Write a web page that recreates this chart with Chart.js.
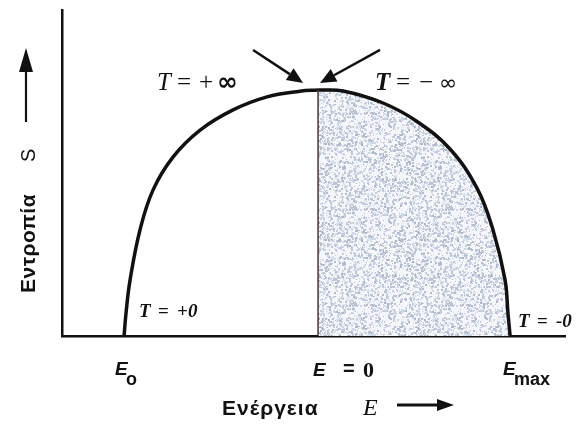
<!DOCTYPE html>
<html>
<head>
<meta charset="utf-8">
<script src="https://cdn.jsdelivr.net/npm/chart.js@4"></script>
<style>
  html, body { margin: 0; padding: 0; background: #fff; }
</style>
</head>
<body>
<canvas id="chart" width="579" height="424"></canvas>
<script>
// entropy curve S(E) (E0 = -1, E = 0, Emax = 1; peak S = 1)
const leftE  = [-1.0, -0.99, -0.969, -0.918, -0.851, -0.747, -0.608, -0.438, -0.263, -0.093, 0];
const leftS  = [0, 0.093, 0.228, 0.431, 0.593, 0.728, 0.837, 0.919, 0.972, 0.995, 1];
const rightE = [0, 0.129, 0.335, 0.510, 0.680, 0.820, 0.902, 0.964, 0.979, 0.990];
const rightS = [1, 0.996, 0.947, 0.872, 0.760, 0.600, 0.431, 0.228, 0.093, 0];

// tick positions on the energy axis
const tickValues = [-1, 0, 1];
const tickNames  = ['E', 'E', 'E'];
const tickSubs   = ['o', '', 'max'];

const xLabel = 'Ενέργεια';
const yLabel = 'Εντροπία';

const toPoints = (xs, ys) => xs.map((x, i) => ({ x, y: ys[i] }));

// grey speckled fill for the negative-temperature half
function speckle() {
    const size = 96;
    const c = document.createElement('canvas');
    c.width = c.height = size;
    const g = c.getContext('2d');
    g.fillStyle = '#f5f6f9';
    g.fillRect(0, 0, size, size);
    let seed = 12345;
    const rnd = () => (seed = (seed * 16807) % 2147483647) / 2147483647;
    for (let i = 0; i < 1900; i++) {
        const v = 182 + (rnd() * 42 | 0);
        g.fillStyle = `rgb(${v - 8},${v},${v + 16})`;
        const s = rnd() < 0.5 ? 2 : 1;
        g.fillRect(rnd() * size | 0, rnd() * size | 0, s, s);
    }
    return g.createPattern(c, 'repeat');
}

function arrow(ctx, x1, y1, x2, y2, width, headLen, headW) {
    const a = Math.atan2(y2 - y1, x2 - x1);
    const bx = x2 - headLen * Math.cos(a), by = y2 - headLen * Math.sin(a);
    ctx.lineWidth = width;
    ctx.beginPath();
    ctx.moveTo(x1, y1);
    ctx.lineTo(bx, by);
    ctx.stroke();
    ctx.beginPath();
    ctx.moveTo(x2, y2);
    ctx.lineTo(bx + headW / 2 * Math.sin(a), by - headW / 2 * Math.cos(a));
    ctx.lineTo(bx - headW / 2 * Math.sin(a), by + headW / 2 * Math.cos(a));
    ctx.closePath();
    ctx.fill();
}

// text pieces placed at offsets from an anchor
function pieces(ctx, x, y, parts) {
    for (const [text, font, dx, dy] of parts) {
        ctx.font = font;
        ctx.fillText(text, x + dx, y + (dy || 0));
    }
}

const annotations = {
    id: 'annotations',
    afterDraw(chart) {
        const { ctx, scales: { x, y } } = chart;
        const ink = '#111';
        ctx.save();
        ctx.fillStyle = ink;
        ctx.strokeStyle = ink;
        ctx.textBaseline = 'alphabetic';
        ctx.textAlign = 'left';

        const px = x.getPixelForValue(0);
        const py = y.getPixelForValue(1);
        const base = y.getPixelForValue(0);

        // arrows pointing at the top of the curve
        arrow(ctx, px - 65, py - 40, px - 15, py - 7, 2.5, 16, 14);
        arrow(ctx, px + 62, py - 40, px + 2, py - 7, 2.5, 16, 14);

        const serif = '"Liberation Serif", "Times New Roman", serif';
        const sans = '"Liberation Sans", Arial, sans-serif';
        const dsans = '"DejaVu Sans", sans-serif';

        pieces(ctx, px, py, [
            ['T', `italic 25px ${serif}`, -161],
            ['=', `25px ${serif}`, -141],
            ['+', `25px ${serif}`, -119],
            ['∞', `bold 25px ${dsans}`, -101]
        ]);
        pieces(ctx, px, py, [
            ['T', `bold italic 25px ${serif}`, 57],
            ['=', `25px ${serif}`, 78],
            ['−', `25px ${serif}`, 101],
            ['∞', `22px ${dsans}`, 121]
        ]);

        // temperature labels at the ends of the curve
        pieces(ctx, x.getPixelForValue(-1), base - 19, [
            ['T', `bold italic 19px ${serif}`, 15],
            ['=', `bold 19px ${serif}`, 34],
            ['+0', `bold italic 19px ${serif}`, 53]
        ]);
        pieces(ctx, x.getPixelForValue(1), base - 9, [
            ['T', `bold italic 19px ${serif}`, 6],
            ['=', `bold 19px ${serif}`, 25],
            ['-0', `bold italic 19px ${serif}`, 44]
        ]);

        // energy tick labels
        tickValues.forEach((v, i) => {
            const tx = x.getPixelForValue(v);
            if (tickSubs[i]) {
                pieces(ctx, tx, base + 39, [
                    [tickNames[i], `italic bold 19px ${sans}`, -9],
                    [tickSubs[i], `bold 18px ${sans}`, 2, 10]
                ]);
            } else {
                pieces(ctx, tx, base + 40, [
                    [tickNames[i], `italic bold 19px ${sans}`, -5],
                    ['=', `bold 20px ${sans}`, 25, -1],
                    ['0', `bold 22px ${serif}`, 45, 1]
                ]);
            }
        });

        // x axis title with arrow
        ctx.letterSpacing = '1px';
        pieces(ctx, 222, 415, [[xLabel, `bold 21px ${sans}`, 0]]);
        ctx.letterSpacing = '0px';
        pieces(ctx, 363, 415, [['E', `italic 24px ${serif}`, 0]]);
        arrow(ctx, 397, 405, 454, 405, 3, 17, 12);

        // y axis title with arrow, rotated
        ctx.save();
        ctx.translate(35, 293);
        ctx.rotate(-Math.PI / 2);
        ctx.letterSpacing = '0.5px';
        pieces(ctx, 0, 0, [[yLabel, `bold 21px ${sans}`, 0], ['S', `20px ${sans}`, 131]]);
        ctx.restore();
        arrow(ctx, 26, 122, 26, 48, 2.2, 24, 14);

        ctx.restore();
    }
};

new Chart(document.getElementById('chart'), {
    type: 'line',
    data: {
        datasets: [
            {
                data: [{ x: 0, y: 0 }, { x: 0, y: 1 }],
                borderColor: '#4a3434',
                borderWidth: 1.5,
                pointRadius: 0,
                fill: false
            },
            {
                data: toPoints(rightE, rightS),
                borderColor: '#111',
                borderWidth: 3.5,
                pointRadius: 0,
                tension: 0.4,
                fill: 'origin',
                backgroundColor: speckle()
            },
            {
                data: toPoints(leftE, leftS),
                borderColor: '#111',
                borderWidth: 3.5,
                pointRadius: 0,
                tension: 0.4,
                fill: false
            }
        ]
    },
    options: {
        responsive: false,
        animation: false,
        clip: false,
        layout: { padding: { left: 62, top: 10, right: 14, bottom: 88 } },
        plugins: { legend: { display: false }, tooltip: { enabled: false } },
        scales: {
            x: {
                type: 'linear',
                min: -1.32,
                max: 1.273,
                ticks: { display: false },
                grid: { display: false, drawTicks: false },
                border: { display: true, color: '#111', width: 2.5 }
            },
            y: {
                type: 'linear',
                min: 0,
                max: 1.325,
                ticks: { display: false },
                grid: { display: false, drawTicks: false },
                border: { display: true, color: '#111', width: 2.5 }
            }
        }
    },
    plugins: [annotations]
});
</script>
</body>
</html>
